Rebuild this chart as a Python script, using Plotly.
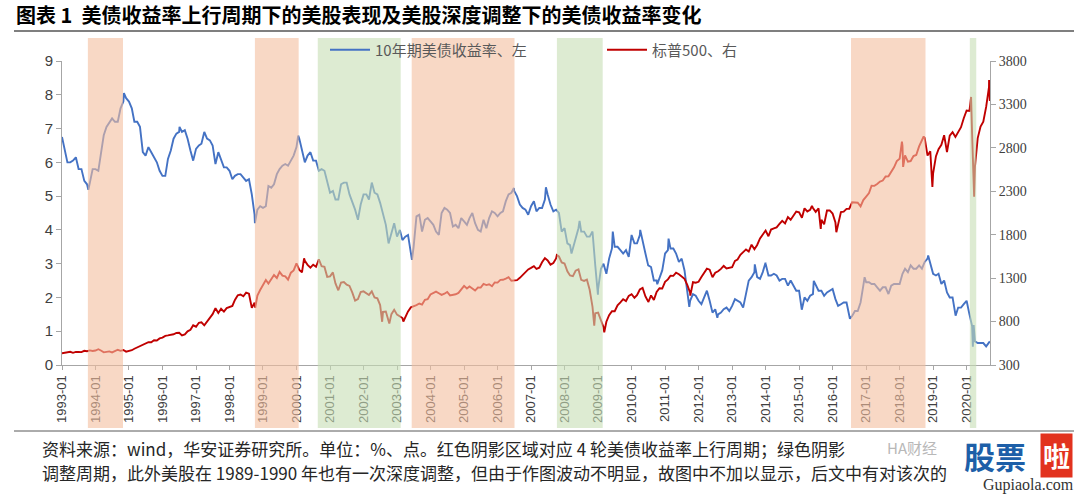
import pandas as pd
import plotly.graph_objects as go

# ---------------- data ----------------
month_start = "1993-01-01"

# 10Y US Treasury yield (%), level at start of each month (1993-01 .. 2020-09)
yield_monthly = [
    6.75, 6.40, 6.00, 6.00, 6.05, 6.15, 5.80, 5.80, 5.45, 5.35, 5.40, 5.80,
    5.80, 5.75, 6.25, 6.80, 7.05, 7.20, 7.30, 7.20, 7.20, 7.60, 7.80, 7.90,
    7.80, 7.60, 7.20, 7.20, 7.05, 6.30, 6.20, 6.45, 6.30, 6.15, 6.00, 5.75,
    5.60, 5.60, 6.10, 6.35, 6.70, 6.85, 6.90, 6.90, 6.95, 6.70, 6.35, 6.05,
    6.40, 6.50, 6.55, 6.90, 6.70, 6.65, 6.50, 5.95, 6.30, 6.10, 5.85, 5.85,
    5.75, 5.50, 5.60, 5.65, 5.65, 5.55, 5.45, 5.50, 5.05, 4.45, 4.60, 4.70,
    4.65, 4.70, 5.30, 5.25, 5.35, 5.65, 5.80, 5.90, 5.95, 5.90, 6.05, 6.20,
    6.45, 6.70, 6.40, 6.00, 6.20, 6.30, 6.05, 6.05, 5.75, 5.80, 5.75, 5.45,
    5.10, 5.15, 4.90, 4.90, 5.35, 5.40, 5.40, 5.05, 4.85, 4.60, 4.30, 4.75,
    5.05, 5.05, 4.90, 5.40, 5.10, 5.05, 4.80, 4.45, 4.15, 3.60, 3.90, 4.20,
    3.80, 4.00, 3.70, 3.80, 3.85, 3.35, 3.50, 4.40, 4.45, 3.95, 4.30, 4.35,
    4.25, 4.15, 3.95, 3.85, 4.50, 4.65, 4.60, 4.50, 4.10, 4.15, 4.05, 4.35,
    4.25, 4.15, 4.35, 4.50, 4.20, 4.00, 3.95, 4.30, 4.05, 4.35, 4.55, 4.50,
    4.40, 4.50, 4.55, 4.85, 5.05, 5.10, 5.15, 5.00, 4.75, 4.65, 4.60, 4.45,
    4.70, 4.85, 4.55, 4.65, 4.65, 4.90, 5.05, 4.75, 4.55, 4.60, 4.50, 3.95,
    4.05, 3.60, 3.55, 3.45, 3.75, 4.05, 3.95, 3.95, 3.80, 3.80, 3.95, 2.95,
    2.25, 2.85, 3.00, 2.70, 3.15, 3.45, 3.50, 3.50, 3.40, 3.30, 3.40, 3.20,
    3.85, 3.60, 3.60, 3.85, 3.65, 3.30, 2.95, 2.90, 2.50, 2.50, 2.60, 2.80,
    3.30, 3.40, 3.45, 3.45, 3.30, 3.05, 3.15, 2.80, 2.20, 1.90, 2.10, 2.05,
    1.90, 1.80, 2.00, 2.20, 1.90, 1.55, 1.65, 1.50, 1.55, 1.65, 1.70, 1.60,
    1.75, 1.95, 1.90, 1.85, 1.70, 2.15, 2.50, 2.60, 2.75, 2.60, 2.55, 2.75,
    3.00, 2.65, 2.65, 2.70, 2.65, 2.50, 2.55, 2.55, 2.35, 2.50, 2.35, 2.20,
    2.20, 1.65, 2.00, 1.90, 2.05, 2.10, 2.35, 2.20, 2.20, 2.05, 2.15, 2.20,
    2.25, 1.95, 1.75, 1.80, 1.85, 1.85, 1.50, 1.45, 1.60, 1.60, 1.85, 2.35,
    2.45, 2.45, 2.40, 2.40, 2.30, 2.20, 2.30, 2.30, 2.10, 2.35, 2.40, 2.40,
    2.40, 2.70, 2.85, 2.75, 2.95, 2.85, 2.85, 2.95, 2.85, 3.05, 3.15, 3.00,
    2.70, 2.65, 2.70, 2.40, 2.50, 2.15, 2.00, 2.00, 1.50, 1.70, 1.70, 1.80,
    1.90, 1.50, 1.15, 0.70, 0.65, 0.65, 0.65, 0.55, 0.70,
]
yield_extra_dates = ["1993-10-15", "1994-11-07", "1996-07-05", "1998-10-05", "2000-01-20",
                     "2003-06-13", "2006-06-28", "2007-06-12", "2008-03-17", "2008-06-13",
                     "2008-12-30", "2009-06-10", "2010-04-05", "2010-10-08", "2011-02-08",
                     "2011-09-22", "2012-07-24", "2013-09-05", "2013-12-31", "2015-01-30",
                     "2015-06-10", "2016-07-08", "2016-12-15", "2018-11-08", "2019-09-03",
                     "2020-03-09", "2020-03-18", "2020-09-10"]
yield_extra_values = [5.19, 8.05, 7.05, 4.20, 6.79,
                      3.11, 5.24, 5.26, 3.30, 4.27,
                      2.08, 3.95, 4.00, 2.39, 3.74,
                      1.72, 1.40, 2.98, 3.03, 1.64,
                      2.49, 1.37, 2.60, 3.24, 1.46,
                      0.54, 1.18, 0.70]

# S&P 500 (points), level at start of each month (1993-01 .. 2020-09)
sp_monthly = [
    435.7, 438.8, 443.4, 451.7, 440.2, 450.2, 450.5, 448.1, 463.6, 458.9, 467.8, 461.8,
    466.5, 481.6, 467.1, 445.8, 451.0, 456.5, 444.3, 458.3, 475.5, 462.7, 472.4, 453.7,
    459.3, 470.4, 487.4, 500.7, 514.7, 533.4, 544.8, 562.1, 561.9, 584.4, 581.5, 605.4,
    615.9, 636.0, 640.4, 645.5, 654.2, 669.1, 670.6, 639.9, 652.0, 687.3, 705.3, 757.0,
    740.7, 786.2, 790.8, 757.1, 801.3, 848.3, 885.1, 954.3, 899.5, 947.3, 914.6, 955.4,
    970.4, 980.3, 1049.3, 1101.8, 1111.8, 1090.8, 1133.8, 1120.7, 957.3, 1017.0, 1098.7, 1163.6,
    1229.2, 1279.6, 1238.3, 1286.4, 1335.2, 1301.8, 1372.7, 1328.7, 1320.4, 1282.7, 1362.9, 1388.9,
    1469.3, 1394.5, 1366.4, 1498.6, 1452.4, 1420.6, 1454.6, 1430.8, 1517.7, 1436.5, 1429.4, 1315.0,
    1320.3, 1366.0, 1239.9, 1160.3, 1249.5, 1255.8, 1224.4, 1211.2, 1133.6, 1040.9, 1059.8, 1139.5,
    1148.1, 1130.2, 1106.7, 1147.4, 1076.9, 1067.1, 989.8, 911.6, 916.1, 815.3, 885.8, 936.3,
    879.8, 855.7, 841.2, 848.2, 916.9, 963.6, 974.5, 990.3, 1008.0, 996.0, 1050.7, 1058.2,
    1111.9, 1131.1, 1144.9, 1126.2, 1107.3, 1120.7, 1140.8, 1101.7, 1104.2, 1114.6, 1130.2, 1173.8,
    1211.9, 1181.3, 1203.6, 1180.6, 1156.9, 1191.5, 1191.3, 1234.2, 1220.3, 1228.8, 1207.0, 1249.5,
    1248.3, 1280.1, 1280.7, 1294.9, 1310.6, 1270.1, 1270.2, 1276.7, 1303.8, 1335.9, 1377.9, 1400.6,
    1418.3, 1438.2, 1406.8, 1420.9, 1482.4, 1530.6, 1503.4, 1455.3, 1474.0, 1526.8, 1549.4, 1481.1,
    1468.4, 1378.6, 1330.6, 1322.7, 1385.6, 1400.4, 1280.0, 1267.4, 1282.8, 1166.4, 968.8, 896.2,
    903.3, 825.9, 735.1, 797.9, 872.8, 919.1, 919.3, 987.5, 1020.6, 1057.1, 1036.2, 1095.6,
    1115.1, 1073.9, 1104.5, 1169.4, 1186.7, 1089.4, 1030.7, 1101.6, 1049.3, 1141.2, 1183.3, 1180.6,
    1257.6, 1286.1, 1327.2, 1325.8, 1363.6, 1345.2, 1320.6, 1292.3, 1218.9, 1131.4, 1253.3, 1247.0,
    1257.6, 1312.4, 1365.7, 1408.5, 1397.9, 1310.3, 1362.2, 1379.3, 1406.6, 1440.7, 1412.2, 1416.2,
    1426.2, 1498.1, 1514.7, 1569.2, 1597.6, 1630.7, 1606.3, 1685.7, 1633.0, 1681.6, 1756.5, 1805.8,
    1848.4, 1782.6, 1859.5, 1872.3, 1884.0, 1923.6, 1960.2, 1930.7, 2003.4, 1972.3, 2018.1, 2067.6,
    2058.9, 1995.0, 2104.5, 2067.9, 2085.5, 2107.4, 2063.1, 2103.8, 1972.2, 1920.0, 2079.4, 2080.4,
    2043.9, 1940.2, 1932.2, 2059.7, 2065.3, 2097.0, 2098.9, 2173.6, 2171.0, 2168.3, 2126.2, 2198.8,
    2238.8, 2278.9, 2363.6, 2362.7, 2384.2, 2411.8, 2423.4, 2470.3, 2471.7, 2519.4, 2575.3, 2647.6,
    2673.6, 2823.8, 2713.8, 2640.9, 2648.1, 2705.3, 2718.4, 2816.3, 2901.5, 2914.0, 2711.7, 2760.2,
    2506.9, 2704.1, 2784.5, 2834.4, 2945.8, 2752.1, 2941.8, 2980.4, 2926.5, 2976.7, 3037.6, 3141.0,
    3230.8, 3225.5, 2954.2, 2584.6, 2912.4, 3044.3, 3100.3, 3271.1, 3500.3,
]
sp_extra_dates = ["1998-10-08", "2000-03-24", "2002-07-23", "2002-10-09", "2003-03-11",
                  "2007-10-09", "2008-11-20", "2009-03-09", "2010-07-02", "2011-10-03",
                  "2015-05-21", "2015-08-25", "2016-02-11", "2018-01-26", "2018-02-08",
                  "2018-09-20", "2018-12-24", "2020-02-19", "2020-03-23", "2020-09-02",
                  "2020-09-10"]
sp_extra_values = [959.4, 1527.5, 797.7, 776.8, 800.7,
                   1565.2, 752.4, 676.5, 1022.6, 1099.2,
                   2130.8, 1867.6, 1829.1, 2872.9, 2581.0,
                   2930.8, 2351.1, 3386.2, 2237.4, 3580.8,
                   3339.2]

# shaded periods
orange_starts = ["1993-10-10", "1998-10-05", "2003-06-10", "2016-07-20"]
orange_ends = ["1994-10-28", "2000-01-25", "2006-07-05", "2018-10-10"]
green_starts = ["2000-08-20", "2007-10-10", "2020-02-05"]
green_ends = ["2003-02-10", "2009-02-20", "2020-04-15"]

x_range = ["1993-01-01", "2020-09-12"]

legend_names = ["10年期美债收益率、左", "标普500、右"]

title_text = "图表 1  美债收益率上行周期下的美股表现及美股深度调整下的美债收益率变化"
note_line1 = "资料来源：wind，华安证券研究所。单位：%、点。红色阴影区域对应 4 轮美债收益率上行周期；绿色阴影"
note_line2 = "调整周期，此外美股在 1989-1990 年也有一次深度调整，但由于作图波动不明显，故图中不加以显示，后文中有对该次的"


def build_series(values, extra_dates, extra_values):
    months = pd.date_range(month_start, periods=len(values), freq="MS")
    s = pd.Series(values, index=months)
    e = pd.Series(extra_values, index=pd.to_datetime(extra_dates))
    s = pd.concat([s, e]).sort_index()
    s = s[~s.index.duplicated(keep="last")]
    return s


yld = build_series(yield_monthly, yield_extra_dates, yield_extra_values)
spx = build_series(sp_monthly, sp_extra_dates, sp_extra_values)

# ---------------- figure ----------------
W, H = 1080, 497
ML, MR, MT, MB = 62, 90, 61, 132
ph = H - MT - MB


def px_x(p):
    return (p - ML) / (W - ML - MR)


def px_y(p):
    return (H - MB - p) / ph


fig = go.Figure()
fig.add_trace(go.Scatter(x=yld.index, y=yld.values, name=legend_names[0], mode="lines",
                         line=dict(color="#4472C4", width=1.9), yaxis="y"))
fig.add_trace(go.Scatter(x=spx.index, y=spx.values, name=legend_names[1], mode="lines",
                         line=dict(color="#C00000", width=1.9), yaxis="y2"))

band_y0 = px_y(428)
band_y1 = px_y(38)
shapes = []
for a, b in zip(orange_starts, orange_ends):
    shapes.append(dict(type="rect", xref="x", yref="paper", x0=a, x1=b, y0=band_y0, y1=band_y1,
                       fillcolor="#F3BE9E", opacity=0.6, line=dict(width=0), layer="above"))
for a, b in zip(green_starts, green_ends):
    shapes.append(dict(type="rect", xref="x", yref="paper", x0=a, x1=b, y0=band_y0, y1=band_y1,
                       fillcolor="#C6DEB4", opacity=0.6, line=dict(width=0), layer="above"))
# title underline and footer rule
shapes.append(dict(type="line", xref="paper", yref="paper", x0=px_x(14), x1=px_x(1074),
                   y0=px_y(31), y1=px_y(31), line=dict(color="#7F7F7F", width=2)))
shapes.append(dict(type="line", xref="paper", yref="paper", x0=px_x(14), x1=px_x(1074),
                   y0=px_y(431), y1=px_y(431), line=dict(color="#595959", width=1)))

annotations = [
    dict(text="<b>" + title_text + "</b>", xref="paper", yref="paper", x=px_x(14), y=px_y(15),
         xanchor="left", yanchor="middle", showarrow=False,
         font=dict(family="Noto Sans CJK SC", size=20, color="#000000")),
    dict(text=note_line1, xref="paper", yref="paper", x=px_x(40), y=px_y(448),
         xanchor="left", yanchor="middle", showarrow=False,
         font=dict(family="Noto Sans CJK SC", size=17, color="#262626")),
    dict(text=note_line2, xref="paper", yref="paper", x=px_x(40), y=px_y(473),
         xanchor="left", yanchor="middle", showarrow=False,
         font=dict(family="Noto Sans CJK SC", size=17, color="#262626")),
    # watermark
    dict(text="<b>股票</b>", xref="paper", yref="paper", x=px_x(962), y=px_y(455),
         xanchor="left", yanchor="middle", showarrow=False,
         font=dict(family="Noto Sans CJK SC", size=31, color="#1D5FA8")),
    dict(text="<b>啦</b>", xref="paper", yref="paper", x=px_x(1056), y=px_y(455),
         xanchor="center", yanchor="middle", showarrow=False, bgcolor="#E2321E",
         borderpad=2, font=dict(family="Noto Sans CJK SC", size=27, color="#FFFFFF")),
    dict(text="Gupiaola.com", xref="paper", yref="paper", x=px_x(1076), y=px_y(485),
         xanchor="right", yanchor="middle", showarrow=False,
         font=dict(family="Liberation Serif", size=16, color="#333333")),
    dict(text="HA财经", xref="paper", yref="paper", x=px_x(912), y=px_y(447),
         xanchor="center", yanchor="middle", showarrow=False,
         font=dict(family="Noto Sans CJK SC", size=15, color="#B8B8B8")),
]

fig.update_layout(
    width=W, height=H,
    margin=dict(l=ML, r=MR, t=MT, b=MB),
    paper_bgcolor="white", plot_bgcolor="white",
    font=dict(family="Liberation Sans", color="#404040"),
    shapes=shapes,
    annotations=annotations,
    showlegend=True,
    legend=dict(orientation="h", x=px_x(325), y=px_y(50), xanchor="left", yanchor="middle",
                bgcolor="rgba(0,0,0,0)", font=dict(family="Noto Sans CJK SC", size=15, color="#595959"),
                entrywidth=222, entrywidthmode="pixels", itemwidth=40),
    xaxis=dict(type="date", range=x_range, tickformat="%Y-%m", dtick="M12", tick0="1993-01-01",
               tickangle=-90, showgrid=False, showline=True, linecolor="#A6A6A6", linewidth=1,
               ticks="outside", ticklen=4, tickcolor="#A6A6A6",
               tickfont=dict(family="Liberation Sans", size=13, color="#404040"), zeroline=False),
    yaxis=dict(range=[0, 9], dtick=1, tick0=0, showgrid=False, showline=True, linecolor="#A6A6A6",
               ticks="outside", ticklen=5, tickcolor="#A6A6A6", zeroline=False,
               tickfont=dict(family="Liberation Sans", size=15, color="#404040")),
    yaxis2=dict(range=[300, 3800], dtick=500, tick0=300, overlaying="y", side="right",
                showgrid=False, showline=True, linecolor="#A6A6A6", ticks="outside", ticklen=5,
                tickcolor="#A6A6A6", zeroline=False,
                tickfont=dict(family="Liberation Serif", size=14, color="#404040")),
)

fig.write_html("out.html")
